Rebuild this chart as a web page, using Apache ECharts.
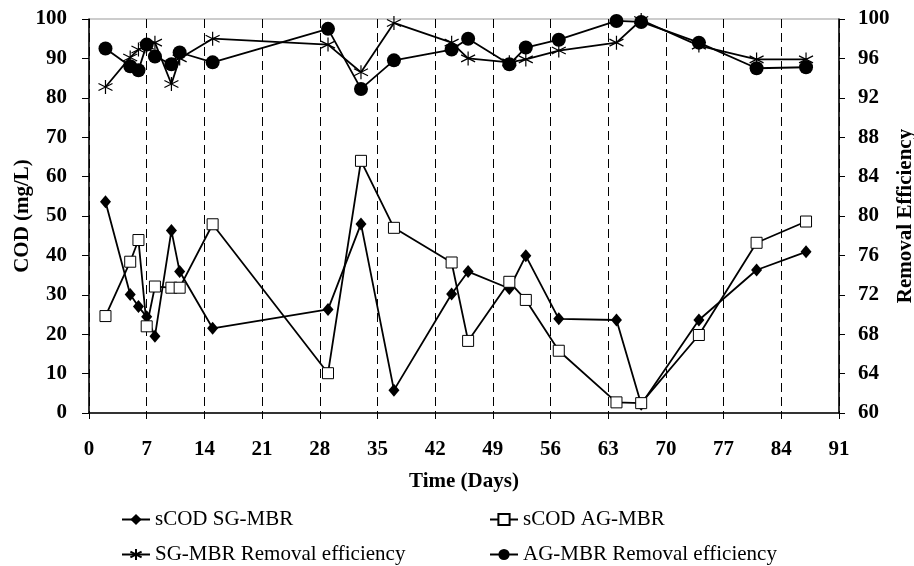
<!DOCTYPE html>
<html>
<head>
<meta charset="utf-8">
<script src="https://cdn.jsdelivr.net/npm/echarts@6/dist/echarts.min.js"></script>
<style>
html,body{margin:0;padding:0;background:#fff;}
#chart{width:914px;height:566px;}
</style>
</head>
<body>
<div id="chart"></div>
<script>
// ---- data ----
var days = [2,5,6,7,8,10,11,15,29,33,37,44,46,51,53,57,64,67,74,81,87];
var scodSG = [53.6,30.1,27.0,24.4,19.5,46.3,35.9,21.5,26.3,48.0,5.8,30.2,35.9,31.6,39.9,23.9,23.6,2.2,23.6,36.3,40.9];
var scodAG = [24.6,38.4,43.9,22.0,32.1,31.8,31.8,47.9,10.1,64.0,47.0,38.2,18.3,33.3,28.7,15.8,2.7,2.5,19.8,43.2,48.6];
var remSG = [93.1,96.1,96.9,97.3,97.6,93.4,96.0,98.0,97.4,94.6,99.6,97.6,96.0,95.6,95.9,96.8,97.6,99.9,97.3,95.9,95.9];
var remAG = [97.0,95.2,94.8,97.4,96.2,95.4,96.6,95.6,99.0,92.9,95.8,96.9,98.0,95.4,97.1,97.9,99.8,99.7,97.6,95.0,95.1];
var seriesNames = ['sCOD SG-MBR','sCOD AG-MBR','SG-MBR Removal efficiency','AG-MBR Removal efficiency'];

function pairs(xs, ys){ return xs.map(function(x,i){ return [x, ys[i]]; }); }

var FONT = "'Liberation Serif','Times New Roman',serif";
var asterisk = 'path://M0,-10L0,10M-8.66,-5L8.66,5M-8.66,5L8.66,-5';

var chart = echarts.init(document.getElementById('chart'), null, {renderer:'canvas'});
function legendAt(name, left, top){
  return {data:[name], left:left, top:top, itemWidth:28, itemHeight:14, itemGap:4,
    textStyle:{fontFamily:FONT, fontSize:21, color:'#000'}, selectedMode:false};
}
var option = {
  animation:false,
  backgroundColor:'#fff',
  grid:{left:89, right:75, top:19, bottom:153, containLabel:false, outerBoundsMode:'none',
        show:true, borderColor:'#999', borderWidth:1},
  legend:[
    legendAt(seriesNames[0], 116, 504),
    legendAt(seriesNames[1], 484, 504),
    legendAt(seriesNames[2], 116, 539),
    legendAt(seriesNames[3], 484, 539)
  ],
  xAxis:{
    type:'value', min:0, max:91, interval:7,
    name:'Time (Days)', nameLocation:'middle', nameGap:58,
    nameTextStyle:{fontFamily:FONT, fontSize:21, fontWeight:'bold', color:'#000'},
    axisLine:{lineStyle:{color:'#000', width:1.5}},
    axisTick:{show:true, inside:false, length:6, lineStyle:{color:'#000'}},
    axisLabel:{fontFamily:FONT, fontSize:21, fontWeight:'bold', color:'#000', margin:26},
    splitLine:{show:true, lineStyle:{color:'#000', type:[9,5], width:1}}
  },
  yAxis:[
    {type:'value', min:0, max:100, interval:10,
     name:'COD (mg/L)', nameLocation:'middle', nameGap:56, nameRotate:90, nameMoveOverlap:false,
     nameTextStyle:{fontFamily:FONT, fontSize:21, fontWeight:'bold', color:'#000'},
     axisLine:{show:true, lineStyle:{color:'#000', width:1.5}},
     axisTick:{show:true, inside:false, length:7, lineStyle:{color:'#000'}},
     axisLabel:{fontFamily:FONT, fontSize:21, fontWeight:'bold', color:'#000', margin:22},
     splitLine:{show:false}},
    {type:'value', min:60, max:100, interval:4, position:'right',
     name:'Removal Efficiency', nameLocation:'middle', nameGap:56, nameRotate:90, nameMoveOverlap:false,
     nameTextStyle:{fontFamily:FONT, fontSize:21, fontWeight:'bold', color:'#000'},
     axisLine:{show:true, lineStyle:{color:'#000', width:1.5}},
     axisTick:{show:true, inside:false, length:6, lineStyle:{color:'#000'}},
     axisLabel:{fontFamily:FONT, fontSize:21, fontWeight:'bold', color:'#000', margin:19},
     splitLine:{show:false}}
  ],
  series:[
    {name:seriesNames[0], type:'line', yAxisIndex:0, data:pairs(days, scodSG),
     symbol:'diamond', symbolSize:[11,13], z:3,
     itemStyle:{color:'#000'}, lineStyle:{color:'#000', width:1.8}},
    {name:seriesNames[1], type:'line', yAxisIndex:0, data:pairs(days, scodAG),
     symbol:'rect', symbolSize:11, z:4,
     itemStyle:{color:'#fff', borderColor:'#000', borderWidth:1}, lineStyle:{color:'#000', width:1.8}},
    {name:seriesNames[2], type:'line', yAxisIndex:1, data:pairs(days, remSG),
     symbol:asterisk, symbolSize:14, z:5,
     itemStyle:{color:'#000', borderColor:'#000', borderWidth:1.2}, lineStyle:{color:'#000', width:1.8}},
    {name:seriesNames[3], type:'line', yAxisIndex:1, data:pairs(days, remAG),
     symbol:'circle', symbolSize:14, z:6,
     itemStyle:{color:'#000'}, lineStyle:{color:'#000', width:1.8}}
  ]
};
chart.setOption(option);
</script>
</body>
</html>
